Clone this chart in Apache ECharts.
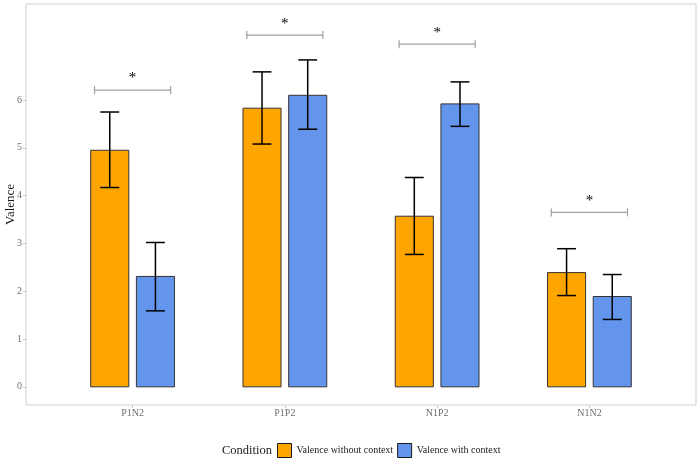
<!DOCTYPE html>
<html><head><meta charset="utf-8">
<script src="https://cdn.jsdelivr.net/npm/echarts@6/dist/echarts.min.js"></script>
<style>html,body{margin:0;padding:0;background:#fff}#c{width:700px;height:467px}</style>
</head><body><div id="c"></div>
<script>
const categories = ['P1N2', 'P1P2', 'N1P2', 'N1N2'];
const seriesNames = ['Valence without context', 'Valence with context'];
const withoutCtx = [4.95, 5.83, 3.57, 2.39];
const withoutCtxLow = [4.17, 5.08, 2.77, 1.91];
const withoutCtxHigh = [5.75, 6.59, 4.38, 2.89];
const withCtx = [2.31, 6.10, 5.92, 1.89];
const withCtxLow = [1.59, 5.39, 5.45, 1.41];
const withCtxHigh = [3.02, 6.84, 6.38, 2.35];
const sigLevels = [6.21, 7.36, 7.17, 3.65];
const sigLabels = ['*', '*', '*', '*'];
const yTicks = [0, 1, 2, 3, 4, 5, 6];
const xTicks = [0, 1, 2, 3];

const FONT = '"Liberation Serif", "DejaVu Serif", serif';
const ORANGE = '#FFA500', BLUE = '#6495ED';
const OFF = 0.15, HALF = 0.125, CAP = 0.062;

function barRenderer(offset, color) {
  return function (params, api) {
    const x = api.value(0), y = api.value(1);
    const p0 = api.coord([x + offset - HALF, y]);
    const p1 = api.coord([x + offset + HALF, 0]);
    return {type: 'rect', shape: {x: p0[0], y: p0[1], width: p1[0] - p0[0], height: p1[1] - p0[1]},
      style: {fill: color, stroke: '#333', lineWidth: 1}};
  };
}
function errRenderer(offset) {
  return function (params, api) {
    const x = api.value(0) + offset, lo = api.value(1), hi = api.value(2);
    const a = api.coord([x, lo]), b = api.coord([x, hi]);
    const l = api.coord([x - CAP, lo])[0], r = api.coord([x + CAP, lo])[0];
    const st = {stroke: '#000', lineWidth: 1.5};
    return {type: 'group', children: [
      {type: 'line', shape: {x1: a[0], y1: a[1], x2: b[0], y2: b[1]}, style: st},
      {type: 'line', shape: {x1: l, y1: a[1], x2: r, y2: a[1]}, style: st},
      {type: 'line', shape: {x1: l, y1: b[1], x2: r, y2: b[1]}, style: st}
    ]};
  };
}
function sigRenderer(params, api) {
  const x = api.value(0), y = api.value(1);
  const l = api.coord([x - 0.25, y]), r = api.coord([x + 0.25, y]);
  const st = {stroke: '#a0a0a0', lineWidth: 1.2};
  return {type: 'group', children: [
    {type: 'line', shape: {x1: l[0], y1: l[1], x2: r[0], y2: r[1]}, style: st},
    {type: 'line', shape: {x1: l[0], y1: l[1] - 4, x2: l[0], y2: l[1] + 4}, style: st},
    {type: 'line', shape: {x1: r[0], y1: r[1] - 4, x2: r[0], y2: r[1] + 4}, style: st},
    {type: 'text', x: (l[0] + r[0]) / 2, y: l[1] - 4,
      style: {text: sigLabels[params.dataIndex], fill: '#000', font: '15px ' + FONT, align: 'center', verticalAlign: 'bottom'}}
  ]};
}

const chart = echarts.init(document.getElementById('c'), null, {renderer: 'canvas'});
chart.setOption({
  animation: false,
  backgroundColor: '#fff',
  textStyle: {fontFamily: FONT},
  grid: {left: 26, right: 4, top: 4, bottom: 62, containLabel: false, outerBoundsMode: 'none',
    show: true, borderColor: '#d0d0d0', borderWidth: 1, backgroundColor: 'transparent'},
  xAxis: {
    type: 'value', min: -0.7, max: 3.7,
    axisLine: {show: false, onZero: false}, splitLine: {show: false},
    axisTick: {show: true, length: 3, lineStyle: {color: '#c8c8c8'}, customValues: xTicks},
    axisLabel: {customValues: xTicks, formatter: v => categories[Math.round(v)], color: '#6e6e6e', fontSize: 10, fontFamily: FONT, margin: 3}
  },
  yAxis: {
    type: 'value', min: -0.38, max: 8.01,
    name: 'Valence', nameLocation: 'middle', nameRotate: 90, nameGap: 9, nameMoveOverlap: false,
    nameTextStyle: {fontSize: 13, color: '#1a1a1a', fontFamily: FONT},
    axisLine: {show: false, onZero: false}, splitLine: {show: false},
    axisTick: {show: true, length: 3, lineStyle: {color: '#c8c8c8'}, customValues: yTicks},
    axisLabel: {customValues: yTicks, color: '#6e6e6e', fontSize: 10, fontFamily: FONT, margin: 4}
  },
  legend: {
    left: 277, top: 443, padding: 0, itemWidth: 14, itemHeight: 14, itemGap: 4, icon: 'rect',
    textStyle: {fontSize: 10, color: '#1a1a1a', fontFamily: FONT},
    data: [
      {name: seriesNames[0], itemStyle: {color: ORANGE, borderColor: '#1a1a1a', borderWidth: 1}},
      {name: seriesNames[1], itemStyle: {color: BLUE, borderColor: '#1a1a1a', borderWidth: 1}}
    ]
  },
  graphic: [{type: 'text', left: 222, top: 444, style: {text: 'Condition', font: '12.5px ' + FONT, fill: '#1a1a1a'}}],
  series: [
    {type: 'custom', name: seriesNames[0], itemStyle: {color: ORANGE}, renderItem: barRenderer(-OFF, ORANGE),
      data: categories.map((c, i) => [i, withoutCtx[i]])},
    {type: 'custom', name: seriesNames[1], itemStyle: {color: BLUE}, renderItem: barRenderer(OFF, BLUE),
      data: categories.map((c, i) => [i, withCtx[i]])},
    {type: 'custom', name: 'err0', renderItem: errRenderer(-OFF), z: 5,
      data: categories.map((c, i) => [i, withoutCtxLow[i], withoutCtxHigh[i]])},
    {type: 'custom', name: 'err1', renderItem: errRenderer(OFF), z: 5,
      data: categories.map((c, i) => [i, withCtxLow[i], withCtxHigh[i]])},
    {type: 'custom', name: 'sig', renderItem: sigRenderer, z: 5,
      data: categories.map((c, i) => [i, sigLevels[i]])}
  ]
});
</script></body></html>
